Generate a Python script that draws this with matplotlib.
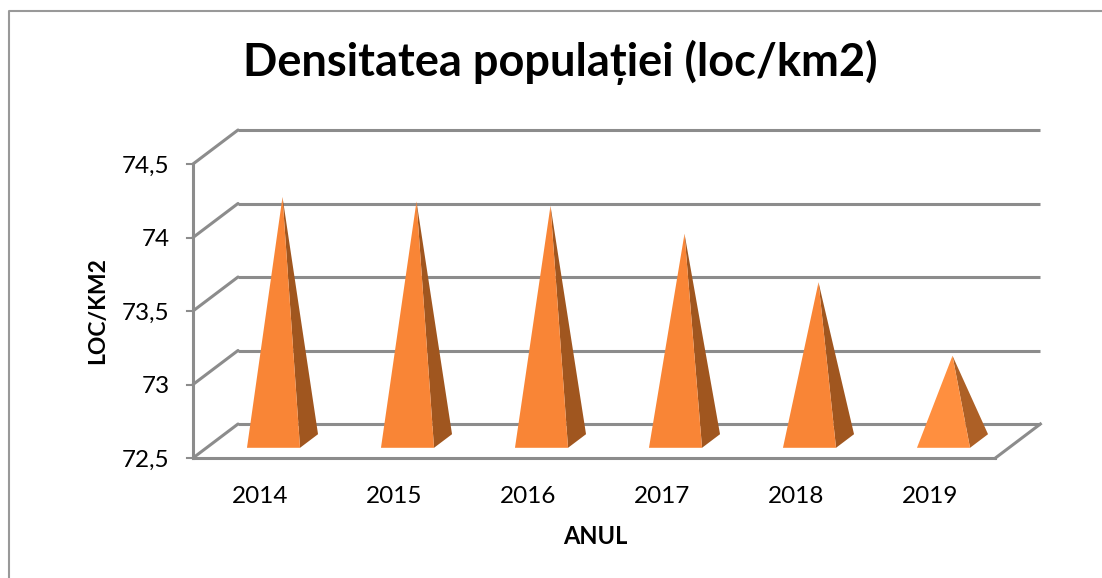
import numpy as np
import matplotlib

matplotlib.use("Agg")
import matplotlib.pyplot as plt
from matplotlib.patches import Polygon

years = ["2014", "2015", "2016", "2017", "2018", "2019"]
density = [74.16, 74.13, 74.10, 73.91, 73.58, 73.08]
y_ticks = [72.5, 73, 73.5, 74, 74.5]
y_labels = ["72,5", "73", "73,5", "74", "74,5"]

W, H = 1102, 578
plt.rcParams["font.family"] = ["Lato", "DejaVu Sans"]

fig = plt.figure(figsize=(W / 100, H / 100), dpi=100)
# axes = front plane of the 3D box
ax = fig.add_axes([193 / W, 1 - 458 / H, (997 - 193) / W, (458 - 164) / H])
ax.set_xlim(0, len(years))
ax.set_ylim(72.5, 74.5)
ax.patch.set_visible(False)
for s in ax.spines.values():
    s.set_visible(False)

# depth of the box in data units
depth_x = 45 / (804 / 6)
depth_y = 34 / 147
grid_col = "#8c8c8c"
x_end = len(years) - 0.012


def proj(x, y, d):
    return x + d * depth_x, y + d * depth_y


# gridlines on the back wall and the diagonal floor/side lines
for v in y_ticks:
    x0, y0 = proj(0, v, 1)
    x1, y1 = proj(x_end, v, 1)
    ax.plot([0, x0], [v, y0], color=grid_col, lw=2.2, clip_on=False, solid_capstyle="round")
    ax.plot([x0, x1], [y0, y1], color=grid_col, lw=2.2, clip_on=False, solid_capstyle="butt")
    ax.plot([-0.045, 0], [v, v], color=grid_col, lw=1.5, clip_on=False)

ax.plot([0, 0], [72.5, 74.5], color=grid_col, lw=2.2, clip_on=False)
ax.plot([0, x_end], [72.5, 72.5], color=grid_col, lw=2.2, clip_on=False)
xr, yr = proj(x_end, 72.5, 1)
ax.plot([x_end, xr], [72.5, yr], color=grid_col, lw=2.2, clip_on=False)

# pyramids
bar_w = 0.396
d_front, d_back = 0.30, 0.70
d_mid = (d_front + d_back) / 2
for i, v in enumerate(density):
    front = "#ff8f3f" if i == 5 else "#f98536"
    side = "#ad6026" if i == 5 else "#a0561f"
    left = proj(i + 0.5 - bar_w / 2, 72.5, d_front)
    right = proj(i + 0.5 + bar_w / 2, 72.5, d_front)
    back = proj(i + 0.5 + bar_w / 2, 72.5, d_back)
    apex = proj(i + 0.5, v, d_mid)
    ax.add_patch(Polygon([right, back, apex], fc=side, ec="none", clip_on=False, zorder=3))
    ax.add_patch(Polygon([left, right, apex], fc=front, ec="none", clip_on=False, zorder=4))

ax.set_xticks(np.arange(len(years)) + 0.5, years)
ax.set_yticks(y_ticks, y_labels)
ax.tick_params(axis="both", length=0, labelsize=17.5)
ax.tick_params(axis="x", pad=20)
ax.tick_params(axis="y", pad=17)

ax.set_xlabel("ANUL", fontsize=17, fontweight="bold", labelpad=13)
ax.set_ylabel("LOC/KM2", fontsize=16.5, fontweight="bold", labelpad=10)

fig.text(560 / W, 1 - 62 / H, "Densitatea populației (loc/km2)", fontsize=32.5,
         fontweight="bold", ha="center", va="center")

# chart border
fig.add_artist(plt.Line2D([9 / W, 9 / W, 1], [0, 1 - 11 / H, 1 - 11 / H], color="#999999", lw=1.5))

fig.savefig("out.png", dpi=100)
